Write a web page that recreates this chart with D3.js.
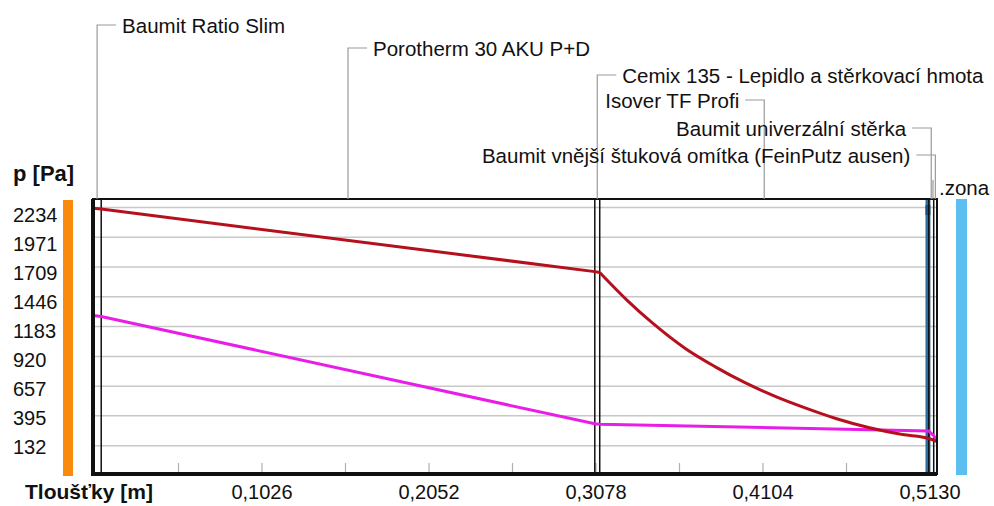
<!DOCTYPE html>
<html>
<head>
<meta charset="utf-8">
<script src="https://cdn.jsdelivr.net/npm/d3@7"></script>
<style>
  html, body { margin: 0; padding: 0; background: #fff; }
  svg { display: block; font-family: "Liberation Sans", Arial, sans-serif; }
</style>
</head>
<body>
<svg id="chart" width="994" height="506"></svg>
<script>
// Wall layers (inside -> outside) and their thickness in metres
const layerNames = [
  "Baumit Ratio Slim",
  "Porotherm 30 AKU P+D",
  "Cemix 135 - Lepidlo a stěrkovací hmota",
  "Isover TF Profi",
  "Baumit univerzální stěrka",
  "Baumit vnější štuková omítka (FeinPutz ausen)"
];
const layerThickness = [0.005, 0.300, 0.003, 0.200, 0.003, 0.002];

// Saturated water vapour pressure through the wall [Pa]
const psatX = [0, 0.005, 0.305, 0.308, 0.325, 0.340, 0.360, 0.378, 0.396, 0.415, 0.432, 0.452, 0.472, 0.492, 0.508, 0.511, 0.513];
const psatY = [2227, 2220, 1668, 1660, 1410, 1215, 990, 830, 690, 565, 470, 370, 290, 230, 195, 180, 168];

// Partial water vapour pressure through the wall [Pa]
const pX = [0, 0.005, 0.305, 0.308, 0.508, 0.511, 0.513];
const pY = [1280, 1272, 325, 322, 262, 220, 180];

// Condensation zone (m)
const zoneRange = [0.506, 0.509];

// Axis labels
const yTickLabels = [2234, 1971, 1709, 1446, 1183, 920, 657, 395, 132];
const xTickLabels = ["0,1026", "0,2052", "0,3078", "0,4104", "0,5130"];
const xTickValues = [0.1026, 0.2052, 0.3078, 0.4104, 0.5130];
const xMinorTicks = [0.0513, 0.1026, 0.1539, 0.2052, 0.2565, 0.3078, 0.3591, 0.4104, 0.4617];

const svg = d3.select("#chart");
const plot = { left: 93, right: 937, top: 199, bottom: 474 };

// layer geometry scale and thickness-axis scale
const x = d3.scaleLinear().domain([0, 0.513]).range([plot.left, plot.right]);
const xAxis = d3.scaleLinear().domain([0, 0.513]).range([95, 930]);
const y = d3.scaleLinear().domain([-118, 2309]).range([plot.bottom, plot.top]);
const yLabel = d3.scaleLinear().domain([132, 2234]).range([446.7, 215]);

// cumulative boundaries of layers
const bounds = [0];
layerThickness.forEach(t => bounds.push(+(bounds[bounds.length - 1] + t).toFixed(4)));

// temperature side bars
svg.append("rect").attr("x", 63).attr("y", plot.top + 1).attr("width", 10)
  .attr("height", plot.bottom - plot.top + 1).attr("fill", "#f98a0c");
svg.append("rect").attr("x", 956).attr("y", plot.top).attr("width", 11)
  .attr("height", plot.bottom - plot.top + 1).attr("fill", "#5cbff0");

// horizontal grid lines
svg.append("g").selectAll("line").data(yTickLabels).join("line")
  .attr("x1", plot.left).attr("x2", plot.right)
  .attr("y1", d => y(d)).attr("y2", d => y(d))
  .attr("stroke", "#c8c8c8").attr("stroke-width", 1.5);

// y labels
svg.append("g").selectAll("text").data(yTickLabels).join("text")
  .attr("x", 13).attr("y", d => yLabel(d))
  .attr("dominant-baseline", "central")
  .attr("font-size", 20).attr("fill", "#111")
  .text(d => d);

// minor ticks on x axis
svg.append("g").selectAll("line").data(xMinorTicks).join("line")
  .attr("x1", d => xAxis(d)).attr("x2", d => xAxis(d))
  .attr("y1", plot.bottom - 11).attr("y2", plot.bottom)
  .attr("stroke", "#b0b0b0").attr("stroke-width", 1.2);

// x labels
svg.append("g").selectAll("text").data(xTickValues).join("text")
  .attr("x", d => xAxis(d)).attr("y", 499)
  .attr("text-anchor", "middle")
  .attr("font-size", 20).attr("fill", "#111")
  .text((d, i) => xTickLabels[i]);

// condensation zone
svg.append("rect")
  .attr("x", x(zoneRange[0])).attr("y", plot.top)
  .attr("width", x(zoneRange[1]) - x(zoneRange[0]))
  .attr("height", plot.bottom - plot.top)
  .attr("fill", "#2b6d9c");
svg.append("rect")
  .attr("x", x(zoneRange[0])).attr("y", plot.top + 6)
  .attr("width", x(zoneRange[1]) - x(zoneRange[0]))
  .attr("height", 10)
  .attr("fill", "#1d4f78");

// layer boundaries
svg.append("g").selectAll("line").data(bounds.slice(1, -1)).join("line")
  .attr("x1", d => x(d)).attr("x2", d => x(d))
  .attr("y1", plot.top).attr("y2", plot.bottom)
  .attr("stroke", "#111").attr("stroke-width", 1.5);

// curves: straight through the masonry, smooth through the insulation
const straight = d3.line().x(d => x(d[0])).y(d => y(d[1]));
const smooth = d3.line().x(d => x(d[0])).y(d => y(d[1])).curve(d3.curveMonotoneX);
const psatPts = psatX.map((v, i) => [v, psatY[i]]);
const splitAt = bounds[3];

svg.append("path").datum(pX.map((v, i) => [v, pY[i]]))
  .attr("d", straight).attr("fill", "none")
  .attr("stroke", "#e81ee8").attr("stroke-width", 3);

const psatGroup = svg.append("g").attr("fill", "none")
  .attr("stroke", "#b5101c").attr("stroke-width", 3).attr("stroke-linejoin", "round");
psatGroup.append("path").datum(psatPts.filter(d => d[0] <= splitAt)).attr("d", straight);
psatGroup.append("path").datum(psatPts.filter(d => d[0] >= splitAt)).attr("d", smooth);

// frame
svg.append("rect")
  .attr("x", plot.left).attr("y", plot.top)
  .attr("width", plot.right - plot.left).attr("height", plot.bottom - plot.top)
  .attr("fill", "none").attr("stroke", "#111").attr("stroke-width", 2);
svg.append("path")
  .attr("d", `M${plot.left},${plot.top}V${plot.bottom}H${plot.right}`)
  .attr("fill", "none").attr("stroke", "#111").attr("stroke-width", 4);

// layer labels with leader lines
const labelRows = [
  { row: 25, side: "right" },
  { row: 48, side: "right" },
  { row: 75, side: "right" },
  { row: 100, side: "left" },
  { row: 128, side: "left" },
  { row: 155, side: "left" }
];
const leaders = svg.append("g");
layerNames.forEach((name, i) => {
  const mid = x((bounds[i] + bounds[i + 1]) / 2);
  const r = labelRows[i];
  const dir = r.side === "right" ? 1 : -1;
  const hEnd = mid + dir * 19;
  leaders.append("path")
    .attr("d", `M${hEnd},${r.row}H${mid}V${plot.top}`)
    .attr("fill", "none").attr("stroke", "#9a9a9a").attr("stroke-width", 1.2);
  leaders.append("text")
    .attr("x", mid + dir * 25).attr("y", r.row)
    .attr("dominant-baseline", "central")
    .attr("text-anchor", dir === 1 ? "start" : "end")
    .attr("font-size", 20.5).attr("fill", "#111")
    .text(name);
});

// zone label
const zx = x((zoneRange[0] + zoneRange[1]) / 2) + 5;
leaders.append("line").attr("x1", zx).attr("x2", zx).attr("y1", 180).attr("y2", plot.top)
  .attr("stroke", "#9a9a9a").attr("stroke-width", 1.2);
leaders.append("text").attr("x", 939).attr("y", 187)
  .attr("dominant-baseline", "central")
  .attr("font-size", 20.5).attr("fill", "#111").text(".zona");

// axis titles
svg.append("text").attr("x", 13).attr("y", 181)
  .attr("font-size", 22).attr("font-weight", "bold").attr("fill", "#111")
  .text("p [Pa]");
svg.append("text").attr("x", 25).attr("y", 499)
  .attr("font-size", 21).attr("font-weight", "bold").attr("fill", "#111")
  .text("Tloušťky [m]");
</script>
</body>
</html>
